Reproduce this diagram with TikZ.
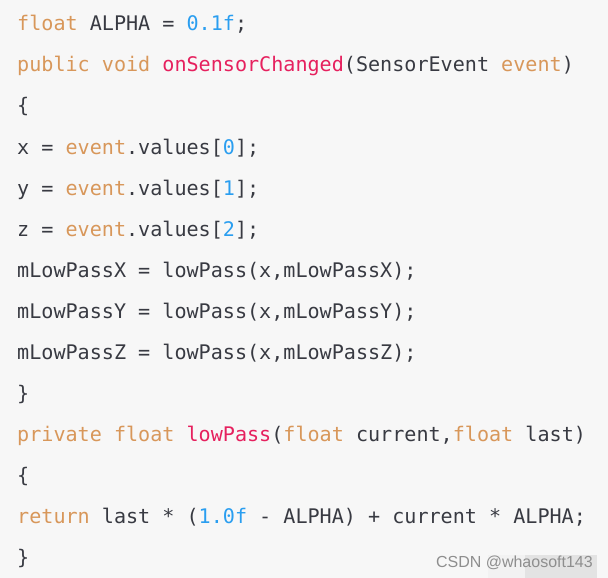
\documentclass[tikz,border=0pt]{standalone}
\usepackage{fontspec}
\newfontfamily\codefont{DejaVu Sans Mono}
\newfontfamily\wmfont{Liberation Sans}
\definecolor{bgc}{HTML}{F7F7F7}
\definecolor{txt}{HTML}{383A42}
\definecolor{kw}{HTML}{D8975A}
\definecolor{fn}{HTML}{E6205E}
\definecolor{num}{HTML}{2A9EF0}
\definecolor{wmc}{HTML}{8E8E8E}
\newcommand{\K}[1]{\textcolor{kw}{#1}}
\newcommand{\F}[1]{\textcolor{fn}{#1}}
\newcommand{\N}[1]{\textcolor{num}{#1}}
\begin{document}
\begin{tikzpicture}[x=1pt,y=1pt,
  codeline/.style={anchor=base west,inner sep=0pt,text=txt,
    font=\codefont\fontsize{20.1}{24}\selectfont},
  wmark/.style={anchor=base east,inner sep=0pt,text=wmc,
    font=\wmfont\fontsize{16}{18}\selectfont}]
\useasboundingbox (0,0) rectangle (608,-578);
\fill[bgc] (0,0) rectangle (608,-578);
\fill[black!5] (488,-555) rectangle (525,-578);
\fill[black!11] (525,-555) rectangle (597,-578);
\node[codeline] (l0) at (17,-31) {\K{float} ALPHA = \N{0.1f};};
\node[codeline] (l1) at (17,-72) {\K{public} \K{void} \F{onSensorChanged}(SensorEvent \K{event})};
\node[codeline] (l2) at (17,-113) {\{};
\node[codeline] (l3) at (17,-154) {x = \K{event}.values[\N{0}];};
\node[codeline] (l4) at (17,-195) {y = \K{event}.values[\N{1}];};
\node[codeline] (l5) at (17,-236) {z = \K{event}.values[\N{2}];};
\node[codeline] (l6) at (17,-277) {mLowPassX = lowPass(x,mLowPassX);};
\node[codeline] (l7) at (17,-318) {mLowPassY = lowPass(x,mLowPassY);};
\node[codeline] (l8) at (17,-359) {mLowPassZ = lowPass(x,mLowPassZ);};
\node[codeline] (l9) at (17,-400) {\}};
\node[codeline] (l10) at (17,-441) {\K{private} \K{float} \F{lowPass}(\K{float} current,\K{float} last)};
\node[codeline] (l11) at (17,-482) {\{};
\node[codeline] (l12) at (17,-523) {\K{return} last * (\N{1.0f} - ALPHA) + current * ALPHA;};
\node[codeline] (l13) at (17,-564) {\}};
\node[wmark] (wm) at (593,-567) {CSDN @whaosoft143};
\end{tikzpicture}
\end{document}
